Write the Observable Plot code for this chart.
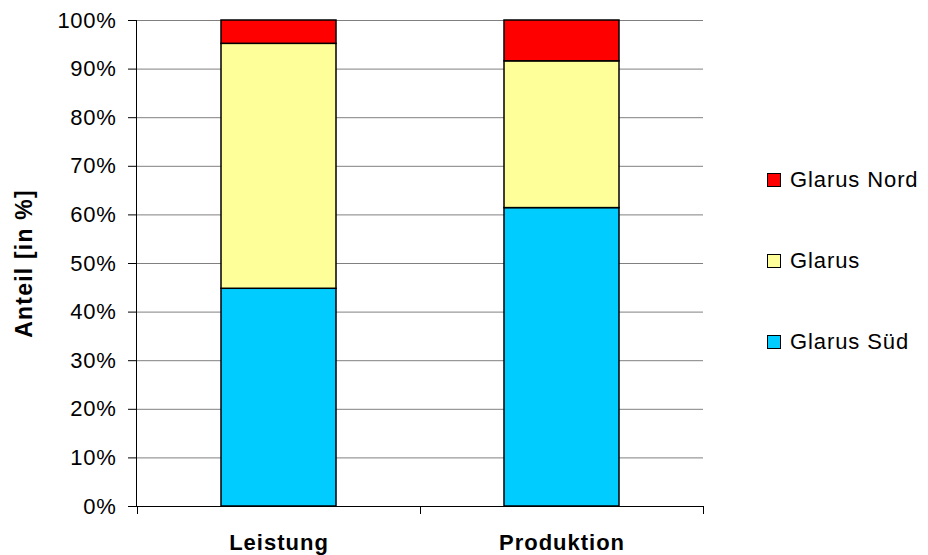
<!DOCTYPE html>
<html>
<head>
<meta charset="utf-8">
<script src="https://cdn.jsdelivr.net/npm/d3@7"></script>
<script src="https://cdn.jsdelivr.net/npm/@observablehq/plot@0.6"></script>
<style>
  html, body { margin: 0; padding: 0; background: #fff; }
  #wrap { position: relative; width: 928px; height: 555px; font-family: "Liberation Sans", Arial, sans-serif; }
  #wrap svg { font-family: "Liberation Sans", Arial, sans-serif; }
  g[aria-label="y-axis tick label"] text { letter-spacing: 0.7px; }
  g[aria-label="y-axis label"] text { font-weight: bold; font-size: 23px; letter-spacing: 1.2px; }
  g[aria-label="x-axis tick label"] text { font-weight: bold; letter-spacing: 1px; }
  #legend { position: absolute; left: 767px; top: 169px; }
  .item { display: flex; align-items: center; height: 22px; margin-bottom: 59px; font-size: 22px; letter-spacing: 0.9px; color: #000; }
  .sw { width: 14px; height: 14px; border: 1px solid #000; margin-right: 9px; box-sizing: border-box; flex: none; }
</style>
</head>
<body>
<div id="wrap"></div>
<script>
const categories = ["Leistung", "Produktion"];
const series = ["Glarus Süd", "Glarus", "Glarus Nord"];
const glarusSued = [44.8, 61.4];
const glarus = [50.4, 30.2];
const glarusNord = [4.8, 8.4];
const colors = ["#00CCFF", "#FFFF99", "#FF0000"];
const yTicks = [0, 10, 20, 30, 40, 50, 60, 70, 80, 90, 100];
const yLabel = "Anteil [in %]";

const valuesBySeries = [glarusSued, glarus, glarusNord];
const data = [];
series.forEach((s, si) => {
  categories.forEach((c, ci) => {
    data.push({category: c, series: s, value: valuesBySeries[si][ci]});
  });
});

const pi = 0.594;
const axisLines = (index, scales, values, dimensions) => {
  const {width, height, marginLeft, marginRight, marginTop, marginBottom} = dimensions;
  const ns = "http://www.w3.org/2000/svg";
  const g = document.createElementNS(ns, "g");
  const line = (x1, y1, x2, y2) => {
    const l = document.createElementNS(ns, "line");
    l.setAttribute("x1", x1); l.setAttribute("y1", y1);
    l.setAttribute("x2", x2); l.setAttribute("y2", y2);
    l.setAttribute("stroke", "#000"); l.setAttribute("stroke-width", 1);
    g.appendChild(l);
  };
  const y0 = height - marginBottom;
  const x0 = marginLeft, x1 = width - marginRight;
  line(x0 + 0.5, marginTop, x0 + 0.5, y0 + 0.5);
  line(x0, y0 + 0.5, x1, y0 + 0.5);
  const x = scales.x;
  const bw = typeof x.bandwidth === "function" ? x.bandwidth() : x.bandwidth;
  const step = typeof x.step === "function" ? x.step() : bw / (1 - pi);
  const bounds = new Set();
  categories.forEach(c => {
    const center = x(c) + bw / 2;
    bounds.add(Math.round(center - step / 2));
    bounds.add(Math.round(center + step / 2));
  });
  bounds.forEach(b => { if (isFinite(b)) line(b + 0.5, y0, b + 0.5, y0 + 8); });
  return g;
};

const chart = Plot.plot({
  width: 928,
  height: 555,
  marginLeft: 136,
  marginRight: 225,
  marginTop: 20,
  marginBottom: 49,
  style: {fontSize: "22px", fontFamily: "Liberation Sans, Arial, sans-serif", color: "#000"},
  x: {domain: categories, paddingInner: pi, paddingOuter: pi / 2, label: null},
  y: {domain: [0, 100], label: null},
  color: {domain: series, range: colors},
  marks: [
    Plot.gridY(yTicks, {stroke: "#808080", strokeOpacity: 1, strokeWidth: 1}),
    Plot.barY(data, Plot.stackY({x: "category", y: "value", fill: "series", stroke: "#000", strokeWidth: 1.5, order: series})),
    Plot.axisY({ticks: yTicks, tickSize: 8, tickPadding: 12, tickFormat: d => d + "%", label: yLabel, labelArrow: "none", labelAnchor: "center", labelOffset: 121, fontSize: 22}),
    Plot.axisX({tickSize: 0, tickPadding: 28, fontSize: 22, label: null}),
    axisLines
  ]
});

chart.querySelectorAll('g[aria-label="y-axis label"] text').forEach(t => { t.textContent = yLabel; });

const wrap = document.getElementById("wrap");
wrap.appendChild(chart);

const legend = document.createElement("div");
legend.id = "legend";
[...series].reverse().forEach(s => {
  const item = document.createElement("div");
  item.className = "item";
  const sw = document.createElement("div");
  sw.className = "sw";
  sw.style.background = colors[series.indexOf(s)];
  const t = document.createElement("span");
  t.textContent = s;
  item.appendChild(sw); item.appendChild(t);
  legend.appendChild(item);
});
wrap.appendChild(legend);
</script>
</body>
</html>
